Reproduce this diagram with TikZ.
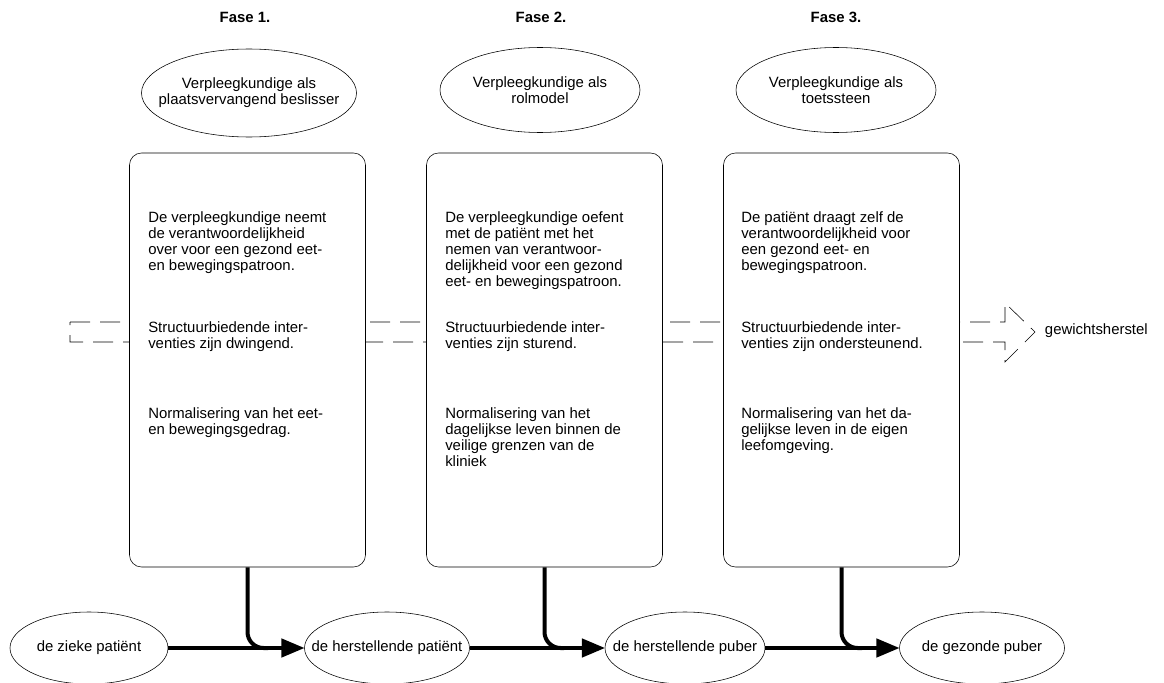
\documentclass[tikz,border=0pt]{standalone}
\usepackage{fontspec}
\setmainfont{Liberation Sans}
\usetikzlibrary{shapes,arrows,positioning}
\newlength{\pu}\setlength{\pu}{0.025cm}

\begin{document}
\begin{tikzpicture}[x=0.025cm,y=-0.025cm,font=\fontsize{10.6}{11.4}\selectfont,
    rol/.style={draw,ellipse,inner sep=0pt,minimum width=200\pu,minimum height=85\pu,
        label={[align=center]center:#1}},
    stadium/.style={draw,ellipse,inner sep=0pt,minimum width=160\pu,minimum height=72\pu,
        label={center:#1}},
    fase/.style={draw,rounded corners=12\pu,fill=white,minimum width=236\pu,minimum height=414\pu},
    kop/.style={font=\fontsize{10.6}{11.4}\selectfont\bfseries},
    tekst/.style={anchor=north west,align=left,inner sep=0pt},
    band/.style={draw=black,dash pattern=on 20\pu off 10\pu},
    pijl/.style={line width=4\pu,-triangle 45},
    lijn/.style={line width=4\pu,rounded corners=16\pu}]
    \useasboundingbox (0,0) rectangle (1164,683);

    % fases
    \node[kop] (k1) at (245,17) {Fase 1.};
    \node[kop] (k2) at (541,17) {Fase 2.};
    \node[kop] (k3) at (836,17) {Fase 3.};

    \node[rol={Verpleegkundige als\\plaatsvervangend beslisser},minimum width=215\pu,minimum height=88\pu] (r1) at (249,93) {};
    \node[rol={Verpleegkundige als\\rolmodel}] (r2) at (540,90) {};
    \node[rol={Verpleegkundige als\\toetssteen}] (r3) at (836,90) {};

    % dashed band behind the boxes
    \draw[band] (70,322) -- (1005,322) -- (1005,303) -- (1035,332) -- (1005,362)
        -- (1005,342) -- (70,342) -- cycle;
    \node[anchor=west] (doel) at (1040,331) {gewichtsherstel};

    \node[fase] (b1) at (247.5,360) {};
    \node[fase] (b2) at (544.5,360) {};
    \node[fase] (b3) at (841.5,360) {};

    \node[tekst] (t11) at (148,211) {De verpleegkundige neemt\\de verantwoordelijkheid\\over voor een gezond eet-\\en bewegingspatroon.};
    \node[tekst] (t12) at (148,321) {Structuurbiedende inter-\\venties zijn dwingend.};
    \node[tekst] (t13) at (148,407) {Normalisering van het eet-\\en bewegingsgedrag.};

    \node[tekst] (t21) at (445,211) {De verpleegkundige oefent\\met de patiënt met het\\nemen van verantwoor-\\delijkheid voor een gezond\\eet- en bewegingspatroon.};
    \node[tekst] (t22) at (445,321) {Structuurbiedende inter-\\venties zijn sturend.};
    \node[tekst] (t23) at (445,407) {Normalisering van het\\dagelijkse leven binnen de\\veilige grenzen van de\\kliniek};

    \node[tekst] (t31) at (741,211) {De patiënt draagt zelf de\\verantwoordelijkheid voor\\een gezond eet- en\\bewegingspatroon.};
    \node[tekst] (t32) at (741,321) {Structuurbiedende inter-\\venties zijn ondersteunend.};
    \node[tekst] (t33) at (741,407) {Normalisering van het da-\\gelijkse leven in de eigen\\leefomgeving.};

    % stadia
    \node[stadium={de zieke patiënt},minimum width=158\pu] (s1) at (89,648) {};
    \node[stadium={de herstellende patiënt},minimum width=165\pu] (s2) at (387,648) {};
    \node[stadium={de herstellende puber}] (s3) at (685,648) {};
    \node[stadium={de gezonde puber},minimum width=165\pu] (s4) at (982,648) {};

    \coordinate (j1) at (268,648);
    \coordinate (j2) at (564,648);
    \coordinate (j3) at (862,648);

    \draw[pijl] (s1) -- (s2);
    \draw[pijl] (s2) -- (s3);
    \draw[pijl] (s3) -- (s4);
    \draw[lijn] (b1.south) |- (j1);
    \draw[lijn] (b2.south) |- (j2);
    \draw[lijn] (b3.south) |- (j3);
\end{tikzpicture}
\end{document}
